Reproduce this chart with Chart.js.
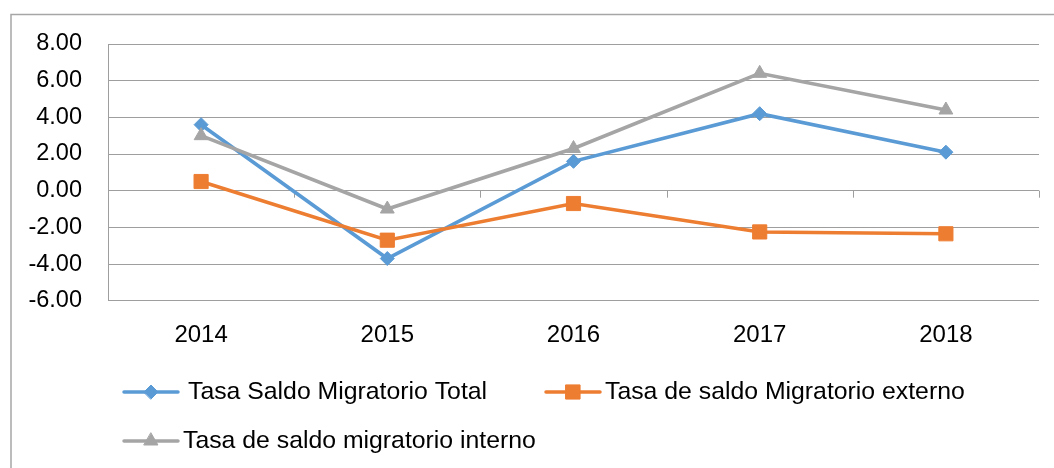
<!DOCTYPE html>
<html><head><meta charset="utf-8">
<script src="https://cdn.jsdelivr.net/npm/chart.js@4.4.1/dist/chart.umd.min.js"></script>
<style>html,body{margin:0;padding:0;background:#fff;} canvas{display:block}</style>
</head><body>
<canvas id="c" width="1054" height="468"></canvas>
<script>
const categories = ['2014','2015','2016','2017','2018'];
const seriesNames = ['Tasa Saldo Migratorio Total','Tasa de saldo Migratorio externo','Tasa de saldo migratorio interno'];
const totalValues = [3.6, -3.7, 1.6, 4.2, 2.1];
const externoValues = [0.5, -2.7, -0.7, -2.25, -2.35];
const internoValues = [3.0, -1.0, 2.3, 6.4, 4.4];
const yMin = -6, yMax = 8, yStep = 2;

const FONT = "'Liberation Sans', Arial, sans-serif";
const GRID = '#9e9e9e';

const frame = {
  id: 'frame',
  beforeDraw(chart) {
    const ctx = chart.ctx;
    ctx.save();
    ctx.fillStyle = '#fff';
    ctx.fillRect(0, 0, chart.width, chart.height);
    ctx.strokeStyle = '#a6a6a6';
    ctx.lineWidth = 1.5;
    ctx.beginPath();
    ctx.moveTo(11, chart.height);
    ctx.lineTo(11, 14.5);
    ctx.lineTo(chart.width, 14.5);
    ctx.stroke();
    ctx.restore();
  }
};

const zeroTicks = {
  id: 'zeroTicks',
  beforeDatasetsDraw(chart) {
    const ctx = chart.ctx, a = chart.chartArea;
    const y0 = chart.scales.y.getPixelForValue(0);
    const n = categories.length;
    ctx.save();
    ctx.strokeStyle = GRID;
    ctx.lineWidth = 1;
    ctx.beginPath();
    for (let k = 0; k <= n; k++) {
      const x = Math.round(a.left + k * (a.right - a.left) / n) + 0.5;
      ctx.moveTo(x, y0);
      ctx.lineTo(x, y0 + 7);
    }
    ctx.stroke();
    ctx.restore();
  }
};

const legendPos = [
  {x: 124, y: 392, tx: 188},
  {x: 546, y: 392, tx: 605},
  {x: 124, y: 441, tx: 183}
];
const customLegend = {
  id: 'customLegend',
  afterDraw(chart) {
    const ctx = chart.ctx;
    ctx.save();
    chart.data.datasets.forEach((ds, i) => {
      const p = legendPos[i];
      ctx.strokeStyle = ds.borderColor;
      ctx.lineWidth = 3.5;
      ctx.lineCap = 'round';
      ctx.beginPath();
      ctx.moveTo(p.x, p.y);
      ctx.lineTo(p.x + 54, p.y);
      ctx.stroke();
      ctx.fillStyle = ds.pointBackgroundColor;
      ctx.strokeStyle = ds.pointBorderColor;
      ctx.lineWidth = 1;
      Chart.helpers.drawPoint(ctx, {pointStyle: ds.pointStyle, radius: ds.pointRadius, borderWidth: 1, rotation: 0}, p.x + 27, p.y);
      ctx.fillStyle = '#000';
      ctx.font = "24.8px " + FONT;
      ctx.textBaseline = 'middle';
      ctx.textAlign = 'left';
      ctx.fillText(ds.label, p.tx, p.y);
    });
    ctx.restore();
  }
};

function mk(label, data, color, style, r, order) {
  return {
    label, data, order,
    borderColor: color, backgroundColor: color,
    pointBackgroundColor: color, pointBorderColor: color,
    pointStyle: style, pointRadius: r, pointHoverRadius: r, pointBorderWidth: 1,
    borderWidth: 3.6, tension: 0, fill: false
  };
}

new Chart(document.getElementById('c'), {
  type: 'line',
  data: {
    labels: categories,
    datasets: [
      mk(seriesNames[0], totalValues, '#5b9bd5', 'rectRot', 7, 2),
      mk(seriesNames[1], externoValues, '#ed7d31', 'rect', 10, 1),
      mk(seriesNames[2], internoValues, '#a5a5a5', 'triangle', 8, 0)
    ]
  },
  options: {
    responsive: false,
    animation: false,
    layout: {padding: {left: 0, right: 15, top: 44, bottom: 0}},
    plugins: {legend: {display: false}, tooltip: {enabled: false}},
    scales: {
      x: {
        offset: true,
        grid: {display: false, drawTicks: false},
        border: {display: false},
        ticks: {padding: 20, color: '#000', font: {family: FONT, size: 24}, maxRotation: 0},
        afterFit(s) { s.height = 167.3; }
      },
      y: {
        min: yMin, max: yMax,
        ticks: {stepSize: yStep, padding: 26, color: '#000', font: {family: FONT, size: 23.5},
          callback: v => Number(v).toFixed(2)},
        grid: {color: GRID, lineWidth: 1, drawTicks: false},
        border: {display: true, color: GRID, width: 1},
        afterFit(s) { s.width = 108; }
      }
    }
  },
  plugins: [frame, zeroTicks, customLegend]
});
</script>
</body></html>
